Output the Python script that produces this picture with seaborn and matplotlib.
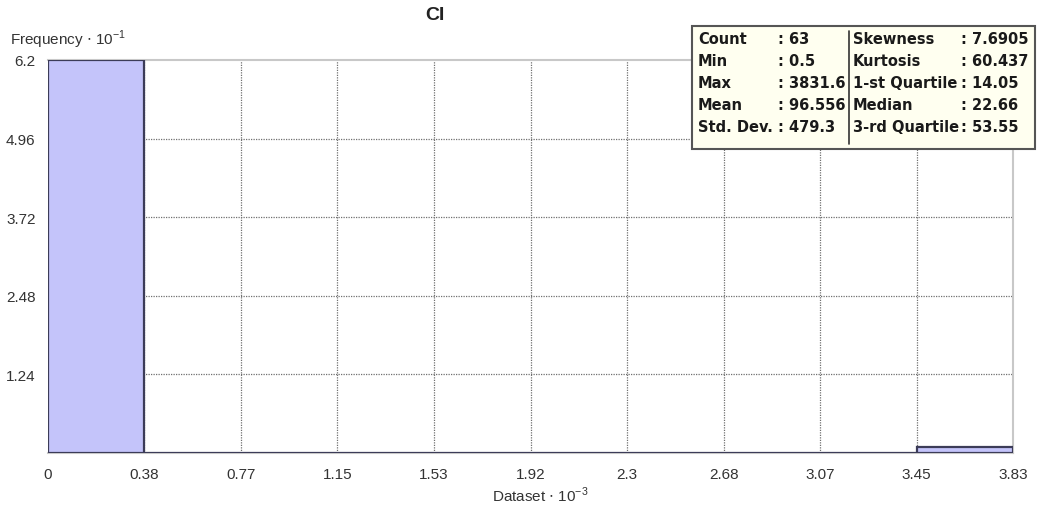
import numpy as np
import pandas as pd
import seaborn as sns
import matplotlib.pyplot as plt

# histogram of CI, values in thousands, frequency in tens
bin_edges = [0, 0.383, 0.766, 1.149, 1.533, 1.916, 2.299, 2.682, 3.065, 3.448, 3.8316]
freq = [6.2, 0, 0, 0, 0, 0, 0, 0, 0, 0.1]
x_labels = ['0', '0.38', '0.77', '1.15', '1.53', '1.92', '2.3', '2.68', '3.07', '3.45', '3.83']
y_ticks = [1.24, 2.48, 3.72, 4.96, 6.2]
y_labels = ['1.24', '2.48', '3.72', '4.96', '6.2']

stats_left = [('Count', '63'), ('Min', '0.5'), ('Max', '3831.6'),
              ('Mean', '96.556'), ('Std. Dev.', '479.3')]
stats_right = [('Skewness', '7.6905'), ('Kurtosis', '60.437'), ('1-st Quartile', '14.05'),
               ('Median', '22.66'), ('3-rd Quartile', '53.55')]

centers = [(a + b) / 2 for a, b in zip(bin_edges[:-1], bin_edges[1:])]
df = pd.DataFrame({'x': centers, 'w': freq})

sns.set_style('white')
plt.rcParams['font.family'] = ['Liberation Sans Narrow', 'Liberation Sans', 'DejaVu Sans']

fig = plt.figure(figsize=(10.38, 5.10), dpi=100)
ax = fig.add_axes([0.0462, 0.1098, 0.930, 0.7706])

sns.histplot(data=df, x='x', weights='w', bins=bin_edges, ax=ax,
             color='#c4c4fa', alpha=1, edgecolor='#3c3c58', linewidth=1.6, zorder=3)

ax.set_xlim(0, bin_edges[-1])
ax.set_ylim(0, 6.2)
ax.set_xticks(bin_edges)
ax.set_xticklabels(x_labels)
ax.set_yticks(y_ticks)
ax.set_yticklabels(y_labels)
ax.tick_params(axis='both', length=0, labelsize=11, colors='#333333')
ax.tick_params(axis='x', pad=10)
ax.tick_params(axis='y', pad=9)
ax.set_xlabel('')
ax.set_ylabel('')

for xv in bin_edges[1:-1]:
    ax.axvline(xv, color='#707070', ls=(0, (1, 1)), lw=0.9, zorder=1)
for yv in y_ticks[:-1]:
    ax.axhline(yv, color='#707070', ls=(0, (1, 1)), lw=0.9, zorder=1)

for s in ['top', 'bottom', 'right']:
    ax.spines[s].set_color('#c8c8c8')
    ax.spines[s].set_linewidth(1.5)
ax.spines['left'].set_visible(False)

fig.text(435 / 1038, 1 - 15 / 510, 'CI', fontsize=14, fontweight='bold',
         color='#222222', ha='center', va='center')
fig.text(10 / 1038, 1 - 40 / 510, r'Frequency $\cdot$ 10$^{\mathregular{-1}}$', fontsize=11,
         color='#333333', ha='left', va='center')
fig.text(540 / 1038, 1 - 495 / 510, r'Dataset $\cdot$ 10$^{\mathregular{-3}}$', fontsize=11,
         color='#333333', ha='center', va='center')

# statistics box
bx0, by0, bx1, by1 = 692, 27, 1035, 150
box = plt.Rectangle((bx0 / 1038, 1 - by1 / 510), (bx1 - bx0) / 1038, (by1 - by0) / 510,
                    transform=fig.transFigure, facecolor='#fffff0', edgecolor='#555555',
                    lw=1.5, zorder=10)
fig.patches.append(box)
fig.add_artist(plt.Line2D([849 / 1038, 849 / 1038], [1 - 32 / 510, 1 - 145 / 510],
                          transform=fig.transFigure, color='#333333', lw=1.2, zorder=11))
bold = dict(fontsize=10.5, fontweight='bold', color='#1a1a1a', va='center', zorder=12,
            family=['DejaVu Sans Condensed', 'DejaVu Sans'])
rows_y = [40, 62, 84, 106, 128]
for (k, v), y in zip(stats_left, rows_y):
    fig.text(698 / 1038, 1 - y / 510, k, ha='left', **bold)
    fig.text(778 / 1038, 1 - y / 510, ': ' + v, ha='left', **bold)
for (k, v), y in zip(stats_right, rows_y):
    fig.text(853 / 1038, 1 - y / 510, k, ha='left', **bold)
    fig.text(961 / 1038, 1 - y / 510, ': ' + v, ha='left', **bold)

fig.savefig('out.png', dpi=100)
